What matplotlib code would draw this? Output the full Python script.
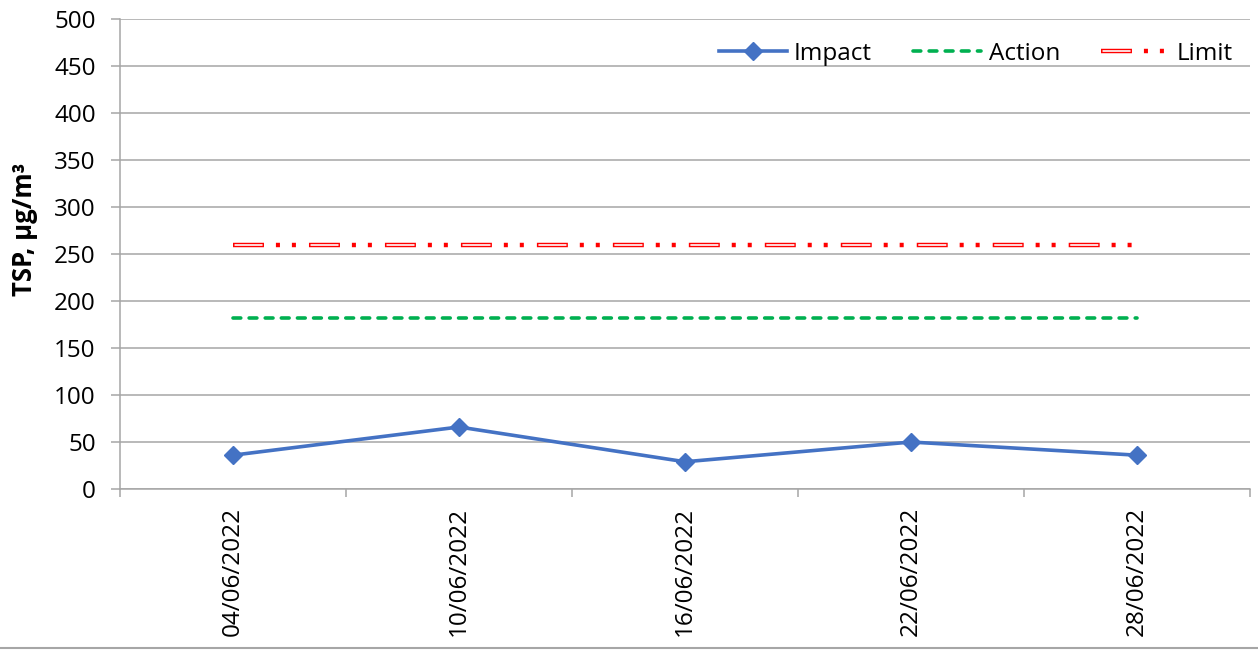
import matplotlib
matplotlib.use("Agg")
import matplotlib.pyplot as plt
from matplotlib.lines import Line2D
from matplotlib.legend_handler import HandlerTuple
from matplotlib.ticker import MultipleLocator, FixedLocator

plt.rcParams['font.family'] = ['Open Sans', 'DejaVu Sans']
plt.rcParams['lines.scale_dashes'] = False

# data
dates = ['04/06/2022', '10/06/2022', '16/06/2022', '22/06/2022', '28/06/2022']
impact = [36, 66, 29, 50, 36]
action = [182, 182, 182, 182, 182]
limit = [260, 260, 260, 260, 260]

fs = 17.5
grey = '#a6a6a6'

fig = plt.figure(figsize=(12.58, 6.53), dpi=100)
ax = fig.add_axes([0.0954, 0.2511, 0.8982, 0.7198])

x = list(range(len(dates)))

# Impact series
l_imp, = ax.plot(x, impact, color='#4472C4', lw=2.6, marker='D', ms=9.5,
                 label='Impact', zorder=5)

# Action level - green dashes
l_act, = ax.plot(x, action, color='#00B050', lw=2.6,
                 ls=(0, (5.6, 6.0)), dash_capstyle='round', label='Action', zorder=4)

# Limit level - hollow red dash followed by two dots
lim_pat = (0, (22.3, 8.6, 2.9, 8.6, 2.9, 9.4))
l_lim_r, = ax.plot(x, limit, color='#FF0000', lw=3.2, ls=lim_pat,
                   dash_capstyle='butt', zorder=4)
l_lim_w, = ax.plot(x, limit, color='white', lw=1.2,
                   ls=(53.6, (20.2, 34.5)), dash_capstyle='butt', zorder=4)

ax.set_xlim(-0.5, len(dates) - 0.5)
ax.set_ylim(0, 500)
ax.yaxis.set_major_locator(MultipleLocator(50))
ax.grid(axis='y', color=grey, lw=1.1)
ax.set_axisbelow(True)

ax.set_xticks(x)
ax.set_xticklabels(dates, rotation=90, fontsize=fs)
ax.xaxis.set_minor_locator(FixedLocator([i - 0.5 for i in range(len(dates) + 1)]))
ax.tick_params(axis='x', which='major', length=0, pad=13)
ax.tick_params(axis='x', which='minor', length=6, width=1.1, color=grey, direction='out')
ax.tick_params(axis='y', labelsize=fs, length=6.5, width=1.1, color=grey, pad=11)

for s in ['top', 'right']:
    ax.spines[s].set_visible(False)
for s in ['left', 'bottom']:
    ax.spines[s].set_color(grey)
    ax.spines[s].set_linewidth(1.1)

ax.set_ylabel('TSP, µg/m³', fontsize=18.5, fontweight='bold')
ax.yaxis.set_label_coords(-0.0725, 0.552)

ax.legend([l_imp, l_act, (l_lim_r, l_lim_w)], ['Impact', 'Action', 'Limit'],
          handler_map={tuple: HandlerTuple(ndivide=1, pad=0)},
          loc='upper right', bbox_to_anchor=(1.0, 0.988), ncol=3, frameon=False,
          fontsize=fs, handlelength=2.8, handletextpad=0.3, columnspacing=1.7,
          borderaxespad=0.3)

# thin border line at the bottom of the chart area
fig.add_artist(Line2D([0, 1], [0.0069, 0.0069], transform=fig.transFigure,
                      color=grey, lw=1.5))

fig.savefig('out.png', dpi=100)
